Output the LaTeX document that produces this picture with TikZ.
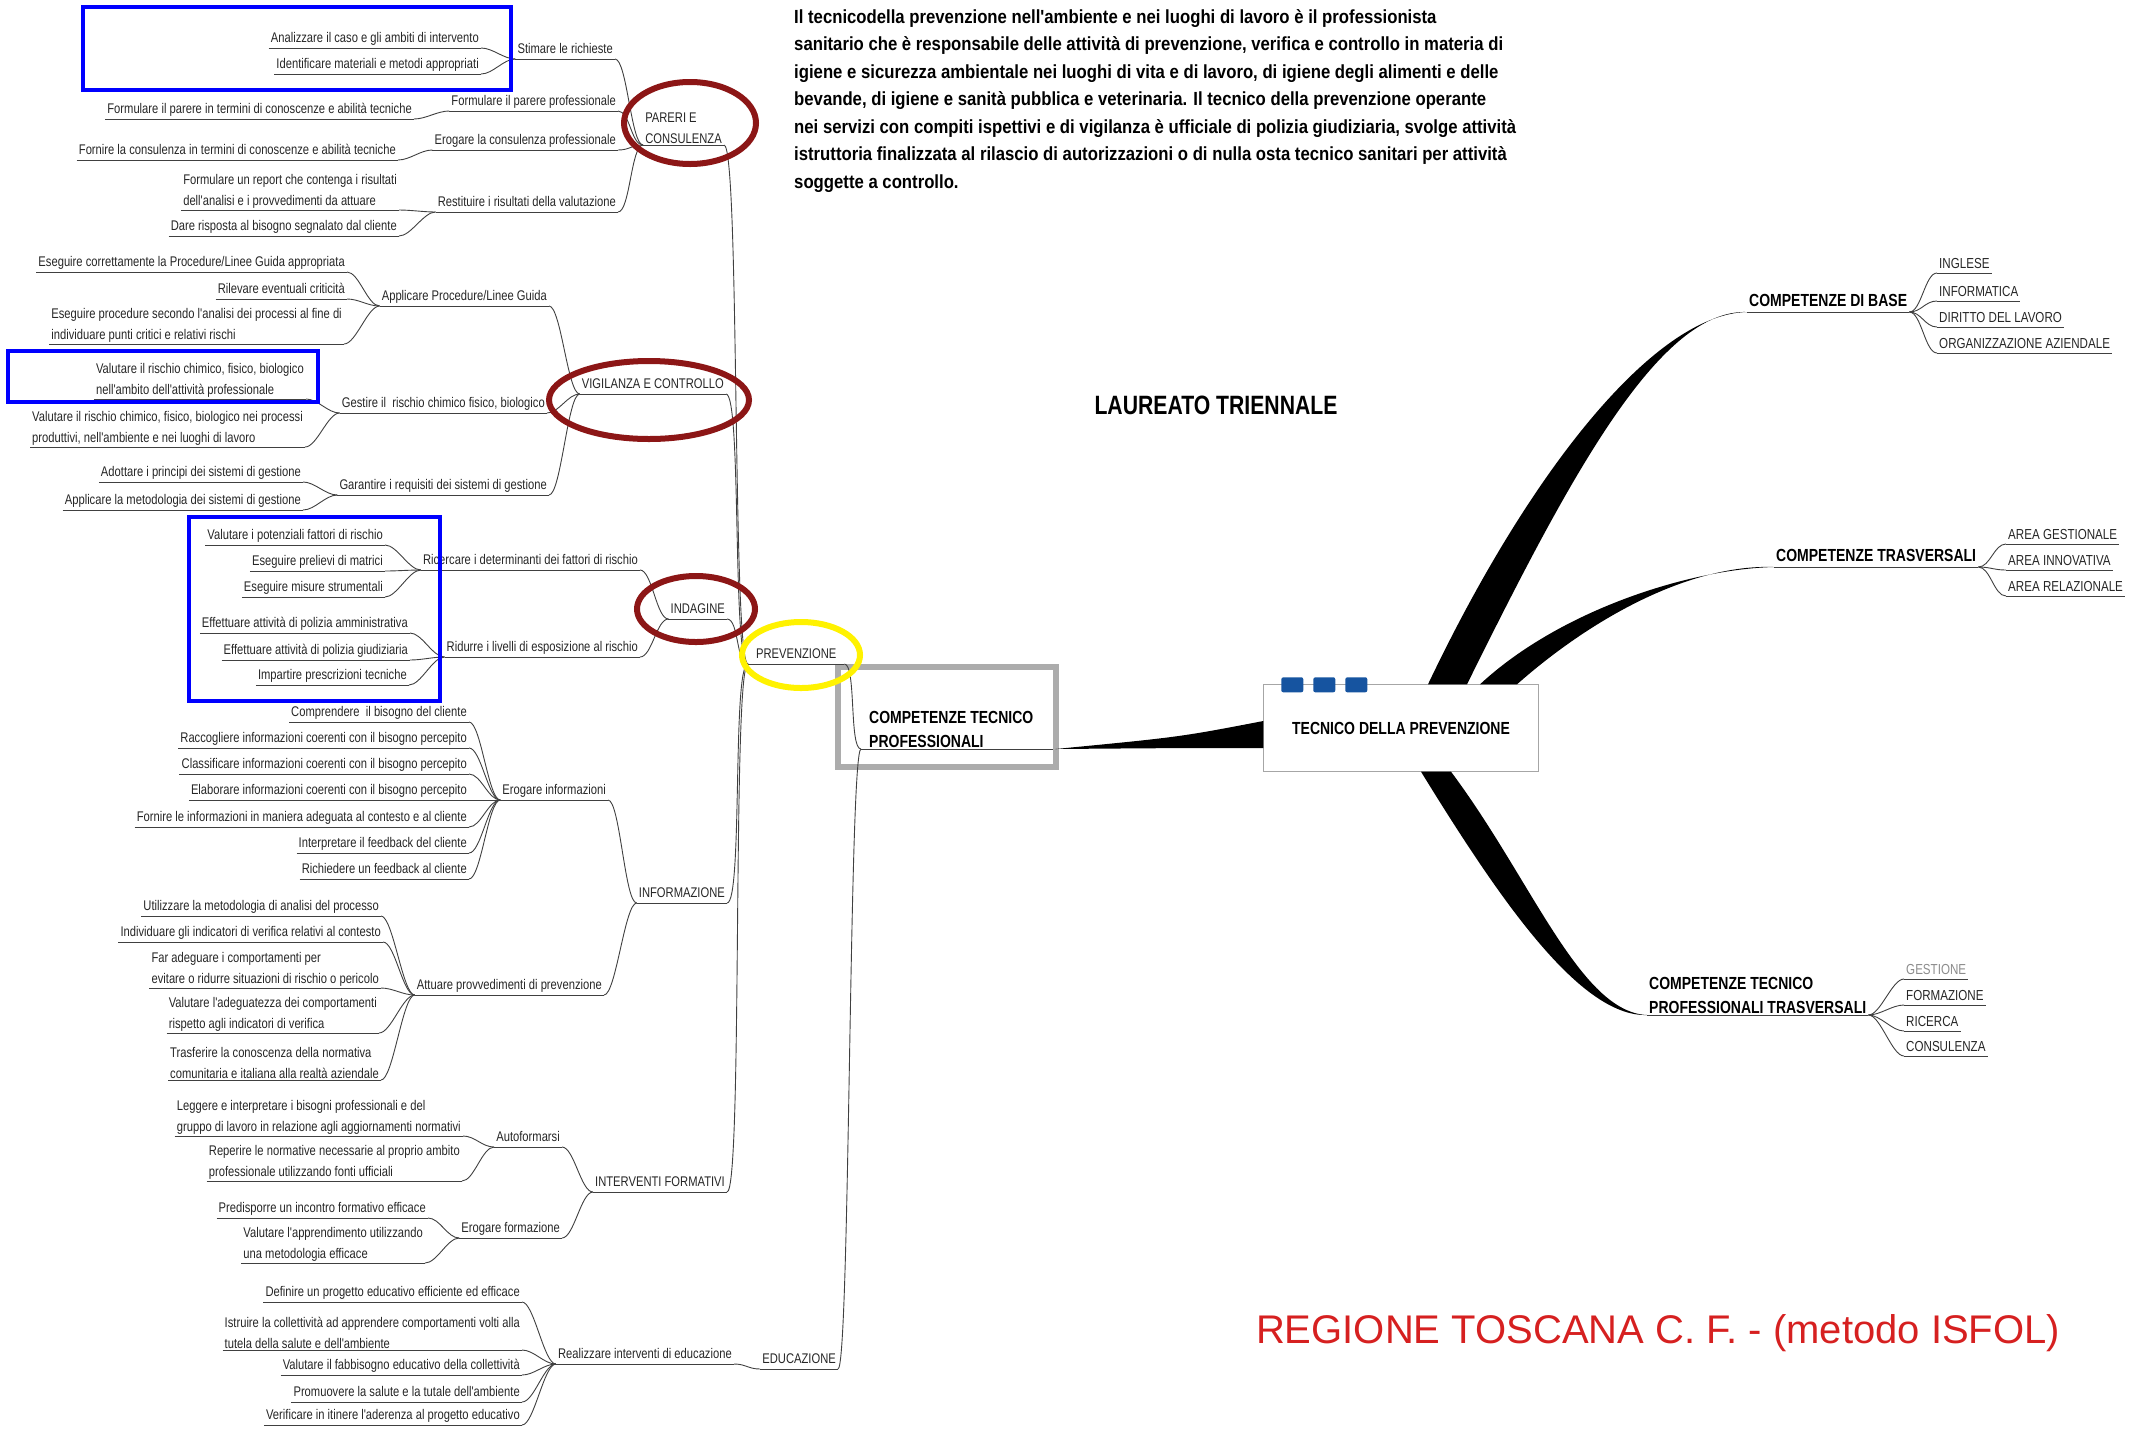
\documentclass[tikz,border=0pt]{standalone}
\usepackage{fontspec}
\setmainfont{Liberation Sans}
\newfontfamily\nar[FakeStretch=0.8]{Liberation Sans}
\newfontfamily\narp[FakeStretch=0.88]{Liberation Sans}
\usepackage{tikz}
\usetikzlibrary{calc}
\definecolor{ringred}{RGB}{140,22,22}
\definecolor{markblue}{RGB}{0,0,255}
\definecolor{markyellow}{RGB}{255,242,0}
\definecolor{framegray}{RGB}{172,172,172}
\definecolor{tabblue}{RGB}{22,84,160}
\definecolor{isfolred}{RGB}{214,32,32}
% branch from the right end of one topic to the left end of the next
\newcommand{\brlink}[3][12]{\draw[br] (#2.south east) .. controls +(#1,0) and +(-#1,0) .. (#3.south west);}

\begin{document}
\begin{tikzpicture}[x=1pt,y=-1pt,
    ul/.style={draw=black!75,line width=1pt},
    br/.style={draw=black!75,line width=0.9pt},
    topic/.style={inner xsep=2pt,inner ysep=1.5pt,text=black!85,
      append after command={(\tikzlastnode.south west) edge[ul] (\tikzlastnode.south east)}},
    leaf/.style={topic,text depth=3.5pt,font=\nar\fontsize{14}{20.5}\selectfont},
    leafm/.style={topic,align=left,font=\nar\fontsize{14}{20.5}\selectfont},
    rleaf/.style={topic,text depth=3pt,font=\nar\fontsize{14.5}{18}\selectfont},
    head/.style={topic,text=black,text depth=4pt,font=\nar\bfseries\fontsize{17.5}{24}\selectfont},
    headm/.style={topic,text=black,align=left,font=\nar\bfseries\fontsize{17.5}{24}\selectfont},
    ring/.style={draw=ringred,line width=6pt},
    markbox/.style={draw=markblue,line width=4pt}]
  \useasboundingbox (0,0) rectangle (2143,1428);

  % centre
  \node[draw=black!35,fill=white,minimum width=275pt,minimum height=87pt,
        font=\nar\bfseries\fontsize{17.5}{20}\selectfont] (tech) at (1401,728) {TECNICO DELLA PREVENZIONE};
  \foreach \dx in {18,50,82}
    \fill[tabblue,rounded corners=2pt] ($(tech.north west)+(\dx,-7)$) rectangle +(22,15);
  \node[headm,align=flush left,text width=178pt,inner xsep=8pt,anchor=south west] (ctp) at (861,749) {COMPETENZE TECNICO\\PROFESSIONALI};
  \draw[framegray,line width=6pt] (838,667) rectangle (1056,767);

  \node[font=\nar\bfseries\fontsize{26.5}{30}\selectfont] (laur) at (1216,405) {LAUREATO TRIENNALE};
  \node[align=left,inner sep=0pt,anchor=north west,text=black,
        font=\narp\bfseries\fontsize{19}{27.5}\selectfont] (desc) at (794,9)
    {Il tecnicodella prevenzione nell'ambiente e nei luoghi di lavoro è il professionista\\
     sanitario che è responsabile delle attività di prevenzione, verifica e controllo in materia di\\
     igiene e sicurezza ambientale nei luoghi di vita e di lavoro, di igiene degli alimenti e delle\\
     bevande, di igiene e sanità pubblica e veterinaria. Il tecnico della prevenzione operante\\
     nei servizi con compiti ispettivi e di vigilanza è ufficiale di polizia giudiziaria, svolge attività\\
     istruttoria finalizzata al rilascio di autorizzazioni o di nulla osta tecnico sanitari per attività\\
     soggette a controllo.};
  \node[text=isfolred,font=\fontsize{40}{44}\selectfont] (isfol) at (1658,1333) {REGIONE TOSCANA C. F. - (metodo ISFOL)};

  % right side
  \node[head,anchor=south west] (cdb) at (1747,312) {COMPETENZE DI BASE};
  \node[rleaf,anchor=south west] (ing) at (1937,273) {INGLESE};
  \node[rleaf,anchor=south west] (infm) at (1937,301) {INFORMATICA};
  \node[rleaf,anchor=south west] (dir) at (1937,327) {DIRITTO DEL LAVORO};
  \node[rleaf,anchor=south west] (org) at (1937,353) {ORGANIZZAZIONE AZIENDALE};
  \node[head,anchor=south west] (ctr) at (1774,567) {COMPETENZE TRASVERSALI};
  \node[rleaf,anchor=south west] (ag) at (2006,544) {AREA GESTIONALE};
  \node[rleaf,anchor=south west] (ai) at (2006,570) {AREA INNOVATIVA};
  \node[rleaf,anchor=south west] (ar) at (2006,596) {AREA RELAZIONALE};
  \node[headm,anchor=south west] (ctpt) at (1647,1015) {COMPETENZE TECNICO\\PROFESSIONALI TRASVERSALI};
  \node[rleaf,anchor=south west,text=black!45] (ges) at (1904,979) {GESTIONE};
  \node[rleaf,anchor=south west] (frm) at (1904,1005) {FORMAZIONE};
  \node[rleaf,anchor=south west] (rcr) at (1904,1031) {RICERCA};
  \node[rleaf,anchor=south west] (cons) at (1904,1056) {CONSULENZA};

  \fill ($(tech.north)+(27,0)$) .. controls (1530,470) and (1655,314) .. (cdb.south west)
     .. controls (1660,309) and (1572,472) .. ($(tech.north)+(66,0)$) -- cycle;
  \fill ($(tech.north)+(79,0)$) .. controls (1560,610) and (1690,569) .. (ctr.south west)
     .. controls (1690,564) and (1592,618) .. ($(tech.north)+(116,0)$) -- cycle;
  \fill ($(tech.south)+(20,0)$) .. controls (1500,900) and (1580,1017) .. (ctpt.south west)
     .. controls (1580,1012) and (1532,880) .. ($(tech.south)+(50,0)$) -- cycle;
  \fill ($(tech.west)+(0,-7)$) .. controls (1180,737) .. (ctp.south east)
     .. controls (1180,748) .. ($(tech.west)+(0,20)$) -- cycle;

  \brlink{cdb}{ing} \brlink{cdb}{infm} \brlink{cdb}{dir} \brlink{cdb}{org}
  \brlink{ctr}{ag} \brlink{ctr}{ai} \brlink{ctr}{ar}
  \brlink{ctpt}{ges} \brlink{ctpt}{frm} \brlink{ctpt}{rcr} \brlink{ctpt}{cons}

  % left side
  \node[leaf,minimum width=96pt,anchor=south west] (prev) at (748,664) {PREVENZIONE};
  \node[leaf,anchor=south east] (edu) at (838,1369) {EDUCAZIONE};
  \brlink{prev}{ctp} \brlink{edu}{ctp}

  % pareri e consulenza
  \node[leaf,anchor=south east] (an1) at (481,48) {Analizzare il caso e gli ambiti di intervento};
  \node[leaf,anchor=south east] (an2) at (481,74) {Identificare materiali e metodi appropriati};
  \node[leaf,anchor=south east] (stim) at (615,59) {Stimare le richieste};
  \node[leaf,anchor=south east] (fp1) at (414,119) {Formulare il parere in termini di conoscenze e abilità tecniche};
  \node[leaf,anchor=south east] (fp) at (618,111) {Formulare il parere professionale};
  \node[leaf,anchor=south east] (ec1) at (398,160) {Fornire la consulenza in termini di conoscenze e abilità tecniche};
  \node[leaf,anchor=south east] (ec) at (618,150) {Erogare la consulenza professionale};
  \node[leafm,anchor=south east] (rep) at (399,210) {Formulare un report che contenga i risultati\\dell'analisi e i provvedimenti da attuare};
  \node[leaf,anchor=south east] (dare) at (399,236) {Dare risposta al bisogno segnalato dal cliente};
  \node[leaf,anchor=south east] (rest) at (618,212) {Restituire i risultati della valutazione};
  \node[leafm,anchor=south east] (par) at (724,145) {PARERI E\\CONSULENZA};
  \brlink{an1}{stim} \brlink{an2}{stim} \brlink{stim}{par}
  \brlink{fp1}{fp} \brlink{fp}{par}
  \brlink{ec1}{ec} \brlink{ec}{par}
  \brlink{rep}{rest} \brlink{dare}{rest} \brlink{rest}{par}

  % vigilanza e controllo
  \node[leaf,anchor=south east] (ap1) at (347,272) {Eseguire correttamente la Procedure/Linee Guida appropriata};
  \node[leaf,anchor=south east] (ap2) at (347,299) {Rilevare eventuali criticità};
  \node[leafm,anchor=south east] (ap3) at (344,344) {Eseguire procedure secondo l'analisi dei processi al fine di\\individuare punti critici e relativi rischi};
  \node[leaf,anchor=south east] (app) at (549,306) {Applicare Procedure/Linee Guida};
  \node[leafm,anchor=south east] (gr1) at (306,399) {Valutare il rischio chimico, fisico, biologico\\nell'ambito dell'attività professionale};
  \node[leafm,anchor=south east] (gr2) at (305,447) {Valutare il rischio chimico, fisico, biologico nei processi\\produttivi, nell'ambiente e nei luoghi di lavoro};
  \node[leaf,anchor=south east] (gr) at (547,413) {Gestire il~ rischio chimico fisico, biologico};
  \node[leaf,anchor=south east] (sg1) at (303,482) {Adottare i principi dei sistemi di gestione};
  \node[leaf,anchor=south east] (sg2) at (303,510) {Applicare la metodologia dei sistemi di gestione};
  \node[leaf,anchor=south east] (sg) at (549,495) {Garantire i requisiti dei sistemi di gestione};
  \node[leaf,anchor=south east] (vig) at (726,394) {VIGILANZA E CONTROLLO};
  \brlink{ap1}{app} \brlink{ap2}{app} \brlink{ap3}{app} \brlink{app}{vig}
  \brlink{gr1}{gr} \brlink{gr2}{gr} \brlink{gr}{vig}
  \brlink{sg1}{sg} \brlink{sg2}{sg} \brlink{sg}{vig}

  % indagine
  \node[leaf,anchor=south east] (ri1) at (385,545) {Valutare i potenziali fattori di rischio};
  \node[leaf,anchor=south east] (ri2) at (385,571) {Eseguire prelievi di matrici};
  \node[leaf,anchor=south east] (ri3) at (385,597) {Eseguire misure strumentali};
  \node[leaf,anchor=south east] (ric) at (640,570) {Ricercare i determinanti dei fattori di rischio};
  \node[leaf,anchor=south east] (rl1) at (410,633) {Effettuare attività di polizia amministrativa};
  \node[leaf,anchor=south east] (rl2) at (410,660) {Effettuare attività di polizia giudiziaria};
  \node[leaf,anchor=south east] (rl3) at (409,685) {Impartire prescrizioni tecniche};
  \node[leaf,anchor=south east] (rid) at (640,657) {Ridurre i livelli di esposizione al rischio};
  \node[leaf,anchor=south east] (ind) at (727,619) {INDAGINE};
  \brlink{ri1}{ric} \brlink{ri2}{ric} \brlink{ri3}{ric} \brlink{ric}{ind}
  \brlink{rl1}{rid} \brlink{rl2}{rid} \brlink{rl3}{rid} \brlink{rid}{ind}

  % informazione
  \node[leaf,anchor=south east] (ei1) at (469,722) {Comprendere~ il bisogno del cliente};
  \node[leaf,anchor=south east] (ei2) at (469,748) {Raccogliere informazioni coerenti con il bisogno percepito};
  \node[leaf,anchor=south east] (ei3) at (469,774) {Classificare informazioni coerenti con il bisogno percepito};
  \node[leaf,anchor=south east] (ei4) at (469,800) {Elaborare informazioni coerenti con il bisogno percepito};
  \node[leaf,anchor=south east] (ei5) at (469,827) {Fornire le informazioni in maniera adeguata al contesto e al cliente};
  \node[leaf,anchor=south east] (ei6) at (469,853) {Interpretare il feedback del cliente};
  \node[leaf,anchor=south east] (ei7) at (469,879) {Richiedere un feedback al cliente};
  \node[leaf,anchor=south east] (ei) at (608,800) {Erogare informazioni};
  \node[leaf,anchor=south east] (at1) at (381,916) {Utilizzare la metodologia di analisi del processo};
  \node[leaf,anchor=south east] (at2) at (383,942) {Individuare gli indicatori di verifica relativi al contesto};
  \node[leafm,anchor=south east] (at3) at (381,988) {Far adeguare i comportamenti per\\evitare o ridurre situazioni di rischio o pericolo};
  \node[leafm,anchor=south east] (at4) at (379,1033) {Valutare l'adeguatezza dei comportamenti\\rispetto agli indicatori di verifica};
  \node[leafm,anchor=south east] (at5) at (381,1080) {Trasferire la conoscenza della normativa\\comunitaria e italiana alla realtà aziendale};
  \node[leaf,anchor=south east] (att) at (604,995) {Attuare provvedimenti di prevenzione};
  \node[leaf,anchor=south east] (inf) at (727,903) {INFORMAZIONE};
  \brlink{ei1}{ei} \brlink{ei2}{ei} \brlink{ei3}{ei} \brlink{ei4}{ei}
  \brlink{ei5}{ei} \brlink{ei6}{ei} \brlink{ei7}{ei} \brlink{ei}{inf}
  \brlink{at1}{att} \brlink{at2}{att} \brlink{at3}{att} \brlink{at4}{att}
  \brlink{at5}{att} \brlink{att}{inf}

  % interventi formativi
  \node[leafm,anchor=south east] (au1) at (463,1136) {Leggere e interpretare i bisogni professionali e del\\gruppo di lavoro in relazione agli aggiornamenti normativi};
  \node[leafm,anchor=south east] (au2) at (462,1181) {Reperire le normative necessarie al proprio ambito\\professionale utilizzando fonti ufficiali};
  \node[leaf,anchor=south east] (aut) at (562,1147) {Autoformarsi};
  \node[leaf,anchor=south east] (ef1) at (428,1218) {Predisporre un incontro formativo efficace};
  \node[leafm,anchor=south east] (ef2) at (425,1263) {Valutare l'apprendimento utilizzando\\una metodologia efficace};
  \node[leaf,anchor=south east] (ef) at (562,1238) {Erogare formazione};
  \node[leaf,anchor=south east] (int) at (727,1192) {INTERVENTI FORMATIVI};
  \brlink{au1}{aut} \brlink{au2}{aut} \brlink{aut}{int}
  \brlink{ef1}{ef} \brlink{ef2}{ef} \brlink{ef}{int}

  % educazione
  \node[leaf,anchor=south east] (ed1) at (522,1302) {Definire un progetto educativo efficiente ed efficace};
  \node[leafm,anchor=south east] (ed2) at (522,1350) {Istruire la collettività ad apprendere comportamenti volti alla\\tutela della salute e dell'ambiente};
  \node[leaf,anchor=south east] (ed3) at (522,1375) {Valutare il fabbisogno educativo della collettività};
  \node[leaf,anchor=south east] (ed4) at (522,1402) {Promuovere la salute e la tutale dell'ambiente};
  \node[leaf,anchor=south east] (ed5) at (522,1425) {Verificare in itinere l'aderenza al progetto educativo};
  \node[leaf,anchor=south east] (rie) at (734,1364) {Realizzare interventi di educazione};
  \brlink{ed1}{rie} \brlink{ed2}{rie} \brlink{ed3}{rie} \brlink{ed4}{rie}
  \brlink{ed5}{rie} \brlink{rie}{edu}

  % main branches into prevenzione
  \brlink[16]{par}{prev} \brlink[16]{vig}{prev} \brlink[12]{ind}{prev}
  \brlink[16]{inf}{prev} \brlink[16]{int}{prev}

  % highlights
  \draw[markbox] (83,7) rectangle (511,90);
  \draw[markbox] (8,351) rectangle (318,402);
  \draw[markbox] (189,517) rectangle (440,701);
  \draw[ring] (690,123) ellipse [x radius=66pt,y radius=41pt];
  \draw[ring] (649,400) ellipse [x radius=100pt,y radius=39pt];
  \draw[ring] (696,609) ellipse [x radius=59pt,y radius=33pt];
  \draw[draw=markyellow,line width=6pt] (801,655) ellipse [x radius=59pt,y radius=33pt];
\end{tikzpicture}
\end{document}
